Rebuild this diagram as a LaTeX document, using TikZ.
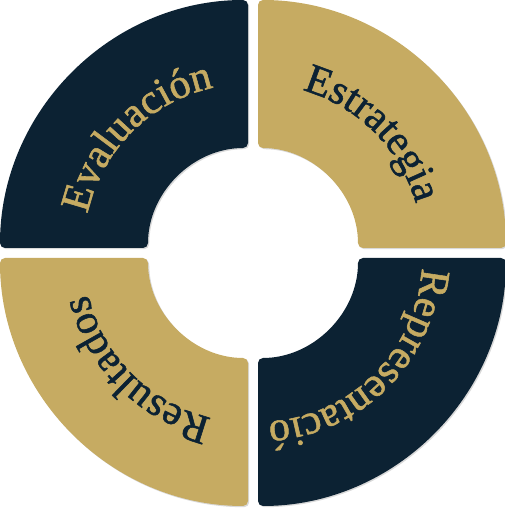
\documentclass[tikz,border=0pt]{standalone}
\usepackage{fontspec}
\setmainfont{Liberation Serif}
\newfontfamily\ringfamily[FakeBold=1.3]{Liberation Serif}
\usepackage{xcolor}
\usetikzlibrary{decorations.text,shadows}

\definecolor{navy}{HTML}{0C2233}
\definecolor{gold}{HTML}{C6AB62}
\newcommand{\ringfont}{\ringfamily\fontsize{42}{50}\selectfont}

\begin{document}
\begin{tikzpicture}[x=1pt,y=1pt,
            seg/.style={rounded corners=5pt,
                drop shadow={shadow xshift=1.2pt,shadow yshift=-1.2pt,opacity=.3}},
            arclabel/.style={decorate,
                decoration={text along path,text align=center}}]
            \useasboundingbox (0,0) rectangle (505,508);

            \coordinate (TL) at (248,260);
            \coordinate (TR) at (258,260);
            \coordinate (BR) at (258,250);
            \coordinate (BL) at (248,250);

            % four ring pieces
            \fill[navy,seg] (TL) ++(180:248) arc[start angle=180,end angle=90,radius=248]
                -- ++(0,-148) arc[start angle=90,end angle=180,radius=100] -- cycle;
            \fill[gold,seg] (TR) ++(90:248) arc[start angle=90,end angle=0,radius=248]
                -- ++(-148,0) arc[start angle=0,end angle=90,radius=100] -- cycle;
            \fill[navy,seg] (BR) ++(0:248) arc[start angle=0,end angle=-90,radius=248]
                -- ++(0,148) arc[start angle=-90,end angle=0,radius=100] -- cycle;
            \fill[gold,seg] (BL) ++(-90:248) arc[start angle=-90,end angle=-180,radius=248]
                -- ++(148,0) arc[start angle=180,end angle=270,radius=100] -- cycle;

            % labels along the arcs
            \path[arclabel,decoration={text={|\ringfont|Evaluación},text color=gold}]
                (TL) ++(200:164) arc[start angle=200,end angle=70,radius=164];
            \path[arclabel,decoration={text={|\ringfont|Estrategia},text color=navy}]
                (TR) ++(110:164) arc[start angle=110,end angle=-20,radius=164];
            \path[arclabel,decoration={text={|\ringfont|Representació},text color=gold}]
                (BR) ++(20:164) arc[start angle=20,end angle=-110,radius=164];
            \path[arclabel,decoration={text={|\ringfont|Resultados},text color=navy}]
                (BL) ++(290:164) arc[start angle=290,end angle=160,radius=164];
        \end{tikzpicture}
\end{document}
